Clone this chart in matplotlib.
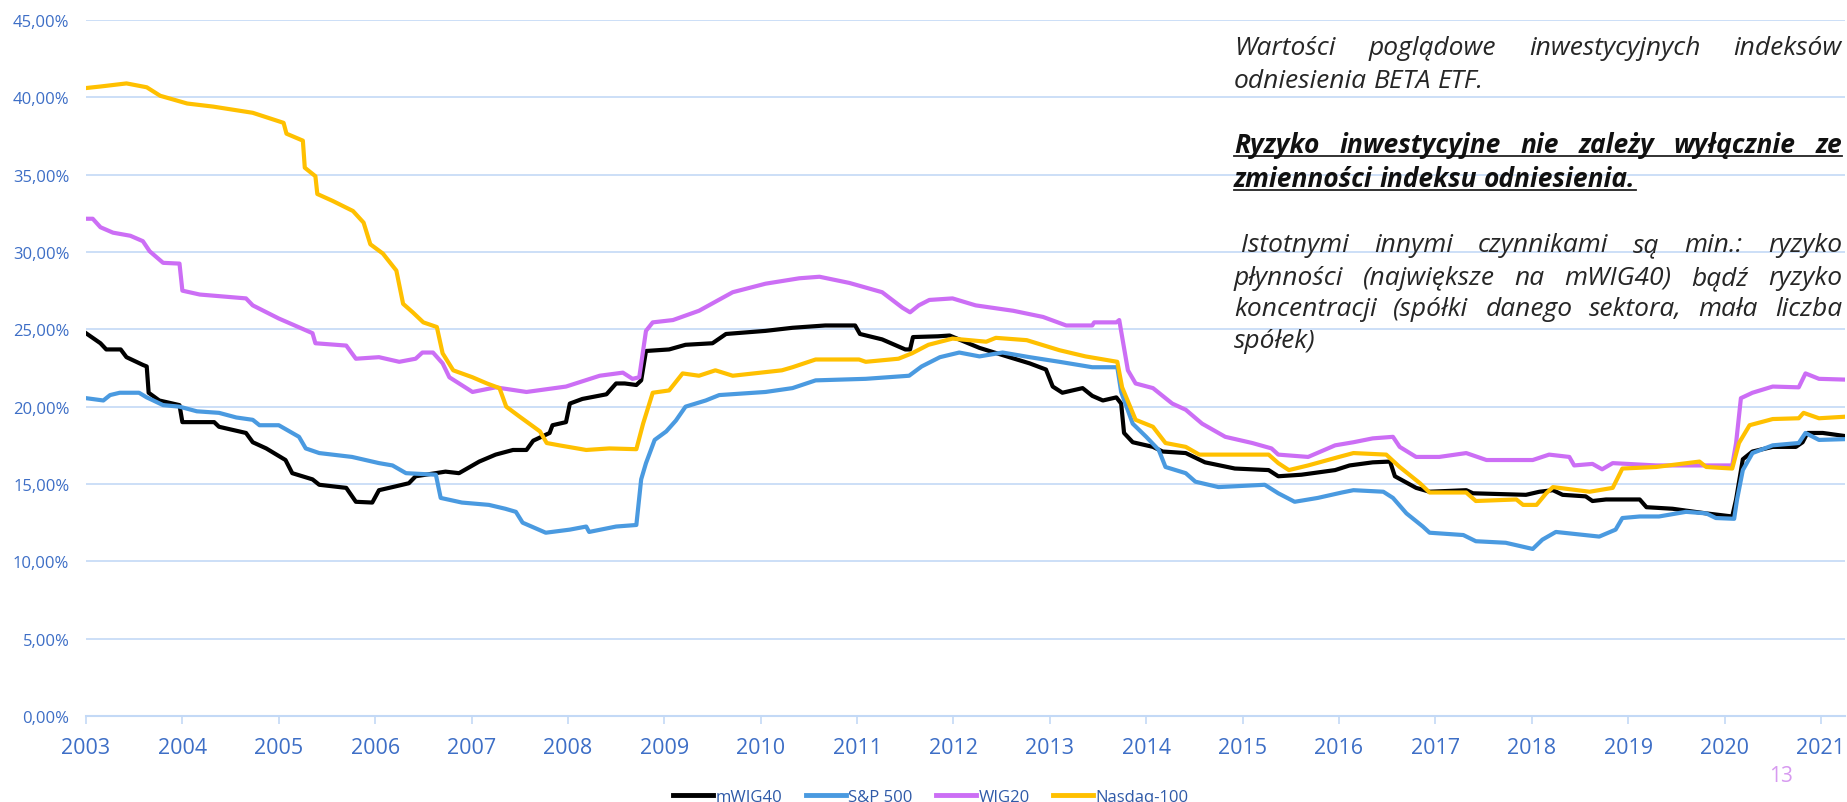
import matplotlib
matplotlib.use("Agg")
import matplotlib.pyplot as plt
from matplotlib.lines import Line2D
from matplotlib.transforms import IdentityTransform
from matplotlib import font_manager as fm

# data: rolling volatility of the reference indices (decimal year, %)
mwig40_x = [2003.0, 2003.15, 2003.21, 2003.36, 2003.42, 2003.59, 2003.63, 2003.65, 2003.76, 2003.97,
            2004.0, 2004.33, 2004.38, 2004.66, 2004.73, 2004.87, 2005.07, 2005.14, 2005.35, 2005.42,
            2005.7, 2005.8, 2005.97, 2006.04, 2006.18, 2006.35, 2006.42, 2006.73, 2006.87, 2007.08,
            2007.25, 2007.43, 2007.57, 2007.64, 2007.81, 2007.84, 2007.98, 2008.02, 2008.15, 2008.4,
            2008.5, 2008.59, 2008.71, 2008.76, 2008.81, 2009.05, 2009.22, 2009.5, 2009.64, 2010.05,
            2010.33, 2010.67, 2010.98, 2011.03, 2011.26, 2011.5, 2011.55, 2011.58, 2011.84, 2011.96,
            2012.27, 2012.58, 2012.79, 2012.96, 2013.03, 2013.13, 2013.34, 2013.44, 2013.55, 2013.69,
            2013.74, 2013.77, 2013.86, 2014.07, 2014.17, 2014.41, 2014.61, 2014.92, 2015.27, 2015.37,
            2015.61, 2015.96, 2016.11, 2016.35, 2016.53, 2016.58, 2016.8, 2016.94, 2017.32, 2017.39,
            2017.94, 2018.08, 2018.22, 2018.32, 2018.56, 2018.63, 2018.77, 2019.12, 2019.19, 2019.46,
            2019.81, 2020.08, 2020.12, 2020.19, 2020.29, 2020.5, 2020.74, 2020.81, 2020.86, 2021.02,
            2021.25]
mwig40_y = [24.75, 24.1, 23.7, 23.7, 23.2, 22.7, 22.6, 20.9, 20.4, 20.1,
            19.0, 19.0, 18.7, 18.3, 17.7, 17.3, 16.55, 15.7, 15.3, 14.95,
            14.75, 13.85, 13.8, 14.6, 14.8, 15.05, 15.5, 15.8, 15.7, 16.45,
            16.9, 17.2, 17.2, 17.8, 18.3, 18.8, 19.0, 20.2, 20.5, 20.8,
            21.5, 21.5, 21.4, 21.7, 23.6, 23.7, 24.0, 24.1, 24.7, 24.9,
            25.1, 25.25, 25.25, 24.7, 24.35, 23.7, 23.7, 24.5, 24.55, 24.6,
            23.8, 23.2, 22.8, 22.4, 21.3, 20.9, 21.2, 20.7, 20.4, 20.6,
            20.2, 18.3, 17.7, 17.4, 17.1, 17.0, 16.4, 16.0, 15.9, 15.5,
            15.6, 15.9, 16.2, 16.4, 16.45, 15.5, 14.75, 14.5, 14.6, 14.4,
            14.3, 14.5, 14.6, 14.3, 14.2, 13.9, 14.0, 14.0, 13.5, 13.4,
            13.1, 12.9, 14.0, 16.6, 17.1, 17.4, 17.4, 17.7, 18.3, 18.3,
            18.1]

sp500_x = [2003.0, 2003.18, 2003.25, 2003.35, 2003.55, 2003.63, 2003.8, 2003.97, 2004.15, 2004.38,
           2004.56, 2004.73, 2004.8, 2005.0, 2005.21, 2005.28, 2005.42, 2005.76, 2006.04, 2006.18,
           2006.32, 2006.63, 2006.68, 2006.9, 2007.18, 2007.35, 2007.46, 2007.53, 2007.77, 2008.02,
           2008.19, 2008.22, 2008.5, 2008.71, 2008.76, 2008.81, 2008.9, 2009.02, 2009.12, 2009.22,
           2009.43, 2009.57, 2010.05, 2010.33, 2010.57, 2011.09, 2011.54, 2011.67, 2011.86, 2012.06,
           2012.27, 2012.51, 2012.79, 2013.1, 2013.44, 2013.7, 2013.74, 2013.86, 2014.0, 2014.13,
           2014.2, 2014.41, 2014.51, 2014.75, 2015.23, 2015.37, 2015.54, 2015.78, 2016.03, 2016.15,
           2016.46, 2016.56, 2016.7, 2016.87, 2016.94, 2017.29, 2017.42, 2017.73, 2018.01, 2018.11,
           2018.25, 2018.7, 2018.87, 2018.94, 2019.12, 2019.32, 2019.6, 2019.81, 2019.91, 2020.1,
           2020.13, 2020.19, 2020.29, 2020.5, 2020.77, 2020.84, 2020.98, 2021.25]
sp500_y = [20.55, 20.4, 20.75, 20.9, 20.9, 20.6, 20.1, 20.0, 19.7, 19.6,
           19.3, 19.15, 18.8, 18.8, 18.05, 17.3, 17.0, 16.75, 16.35, 16.2,
           15.7, 15.6, 14.1, 13.8, 13.65, 13.4, 13.2, 12.5, 11.85, 12.05,
           12.25, 11.9, 12.25, 12.35, 15.3, 16.35, 17.85, 18.4, 19.1, 20.0,
           20.4, 20.75, 20.95, 21.2, 21.7, 21.8, 22.0, 22.6, 23.2, 23.5,
           23.25, 23.5, 23.2, 22.9, 22.55, 22.55, 20.95, 18.9, 18.05, 17.2,
           16.1, 15.7, 15.15, 14.8, 14.95, 14.4, 13.85, 14.1, 14.45, 14.6,
           14.5, 14.1, 13.1, 12.25, 11.85, 11.7, 11.3, 11.2, 10.8, 11.4,
           11.9, 11.6, 12.05, 12.8, 12.9, 12.9, 13.2, 13.1, 12.8, 12.75,
           14.0, 15.9, 17.0, 17.5, 17.65, 18.3, 17.85, 17.9]

wig20_x = [2003.0, 2003.07, 2003.15, 2003.28, 2003.46, 2003.59, 2003.66, 2003.8, 2003.97, 2004.0,
           2004.18, 2004.66, 2004.73, 2005.0, 2005.35, 2005.38, 2005.7, 2005.8, 2006.04, 2006.25,
           2006.42, 2006.49, 2006.6, 2006.7, 2006.77, 2007.01, 2007.25, 2007.57, 2007.98, 2008.33,
           2008.57, 2008.67, 2008.74, 2008.81, 2008.88, 2009.09, 2009.36, 2009.71, 2010.05, 2010.4,
           2010.61, 2010.92, 2011.26, 2011.47, 2011.55, 2011.64, 2011.75, 2011.99, 2012.23, 2012.62,
           2012.93, 2013.17, 2013.44, 2013.46, 2013.69, 2013.72, 2013.81, 2013.89, 2014.07, 2014.27,
           2014.41, 2014.58, 2014.82, 2015.1, 2015.3, 2015.37, 2015.68, 2015.96, 2016.15, 2016.35,
           2016.56, 2016.63, 2016.8, 2017.04, 2017.32, 2017.53, 2018.01, 2018.18, 2018.39, 2018.44,
           2018.63, 2018.73, 2018.84, 2019.29, 2020.08, 2020.12, 2020.17, 2020.29, 2020.5, 2020.77,
           2020.84, 2020.98, 2021.25]
wig20_y = [32.15, 32.15, 31.6, 31.25, 31.05, 30.7, 30.05, 29.3, 29.25, 27.5,
           27.25, 27.0, 26.55, 25.7, 24.75, 24.1, 23.95, 23.1, 23.2, 22.9,
           23.1, 23.5, 23.5, 22.8, 21.9, 20.95, 21.25, 20.95, 21.3, 22.0,
           22.2, 21.8, 21.9, 24.9, 25.45, 25.6, 26.2, 27.4, 27.95, 28.3,
           28.4, 28.0, 27.4, 26.4, 26.1, 26.55, 26.9, 27.0, 26.55, 26.2,
           25.8, 25.25, 25.25, 25.45, 25.45, 25.6, 22.35, 21.5, 21.2, 20.2,
           19.8, 18.9, 18.05, 17.65, 17.3, 16.9, 16.75, 17.5, 17.7, 17.95,
           18.05, 17.4, 16.75, 16.75, 17.0, 16.55, 16.55, 16.9, 16.75, 16.2,
           16.3, 15.95, 16.35, 16.2, 16.2, 17.65, 20.55, 20.9, 21.3, 21.25,
           22.15, 21.8, 21.75]

nasdaq_x = [2003.0, 2003.15, 2003.42, 2003.63, 2003.77, 2004.05, 2004.32, 2004.73, 2005.05, 2005.08,
            2005.25, 2005.27, 2005.38, 2005.4, 2005.56, 2005.77, 2005.88, 2005.95, 2006.08, 2006.22,
            2006.29, 2006.39, 2006.5, 2006.64, 2006.7, 2006.81, 2007.01, 2007.16, 2007.29, 2007.36,
            2007.5, 2007.71, 2007.78, 2007.91, 2008.19, 2008.43, 2008.71, 2008.78, 2008.88, 2009.05,
            2009.19, 2009.36, 2009.53, 2009.71, 2010.22, 2010.33, 2010.57, 2011.02, 2011.09, 2011.43,
            2011.57, 2011.74, 2011.99, 2012.34, 2012.44, 2012.76, 2013.1, 2013.37, 2013.7, 2013.75,
            2013.89, 2014.07, 2014.2, 2014.41, 2014.55, 2015.27, 2015.37, 2015.48, 2015.68, 2016.0,
            2016.15, 2016.49, 2016.63, 2016.84, 2016.94, 2017.32, 2017.42, 2017.84, 2017.91, 2018.05,
            2018.15, 2018.22, 2018.6, 2018.84, 2018.94, 2019.29, 2019.74, 2019.81, 2020.08, 2020.15,
            2020.26, 2020.5, 2020.77, 2020.82, 2020.98, 2021.25]
nasdaq_y = [40.6, 40.7, 40.9, 40.65, 40.1, 39.6, 39.4, 39.0, 38.35, 37.65,
            37.2, 35.45, 34.9, 33.75, 33.3, 32.65, 31.9, 30.5, 29.9, 28.8,
            26.65, 26.1, 25.45, 25.15, 23.45, 22.35, 21.9, 21.5, 21.2, 20.0,
            19.35, 18.4, 17.65, 17.5, 17.2, 17.3, 17.25, 18.9, 20.9, 21.05,
            22.15, 22.0, 22.35, 22.0, 22.35, 22.55, 23.05, 23.05, 22.9, 23.1,
            23.45, 24.0, 24.4, 24.2, 24.45, 24.3, 23.65, 23.25, 22.9, 21.25,
            19.15, 18.7, 17.65, 17.4, 16.9, 16.9, 16.35, 15.9, 16.2, 16.75,
            17.0, 16.9, 16.1, 15.05, 14.45, 14.45, 13.9, 14.0, 13.65, 13.65,
            14.4, 14.8, 14.5, 14.75, 16.0, 16.1, 16.45, 16.1, 16.0, 17.65,
            18.8, 19.2, 19.25, 19.6, 19.25, 19.35]

series_names = ["mWIG40", "S&P 500", "WIG20", "Nasdaq-100"]
series_colors = ["#000000", "#4A9AE0", "#CC6EF5", "#FFC000"]

years = list(range(2003, 2022))
y_ticks = [0, 5, 10, 15, 20, 25, 30, 35, 40, 45]
y_labels = ["0,00%", "5,00%", "10,00%", "15,00%", "20,00%", "25,00%",
            "30,00%", "35,00%", "40,00%", "45,00%"]


def pick_font(italic, bold):
    # find a real (non condensed) italic face, file based so nothing gets faked
    want_w = 700 if bold else 400
    for fam in ["Open Sans", "Noto Sans", "Lato", "DejaVu Sans"]:
        for f in fm.fontManager.ttflist:
            if f.name != fam:
                continue
            low = f.fname.lower()
            if "cond" in low or "narrow" in low or "semi" in low:
                continue
            if italic and f.style not in ("italic", "oblique"):
                continue
            w = f.weight if isinstance(f.weight, int) else (700 if "bold" in str(f.weight) else 400)
            if abs(w - want_w) > 100:
                continue
            return f.fname
    return None


W, H = 1847, 803
fig = plt.figure(figsize=(W / 100, H / 100), dpi=100)
ax = fig.add_axes([86 / W, 1 - 717 / H, (1845 - 86) / W, (717 - 21) / H])

tick_blue = "#3D6EC6"
grid_blue = "#C3D9F6"

for xs, ys, c in zip([mwig40_x, sp500_x, wig20_x, nasdaq_x],
                     [mwig40_y, sp500_y, wig20_y, nasdaq_y], series_colors):
    ax.plot(xs, ys, color=c, lw=3.0, solid_joinstyle="round")

ax.set_xlim(2003, 2021.25)
ax.set_ylim(0, 45)
ax.set_yticks(y_ticks)
ax.set_yticklabels(y_labels)
ax.set_xticks(years)
ax.set_xticklabels([str(y) for y in years])
ax.yaxis.grid(True, color=grid_blue, lw=1.2)
ax.set_axisbelow(True)
for s in ["top", "right", "left"]:
    ax.spines[s].set_visible(False)
ax.spines["bottom"].set_color(grid_blue)
ax.spines["bottom"].set_linewidth(1.5)
ax.tick_params(axis="y", length=0, pad=12, labelsize=12, labelcolor=tick_blue)
ax.tick_params(axis="x", length=6, width=1.2, color=grid_blue, pad=9,
               labelsize=15.5, labelcolor=tick_blue)
for lab in ax.get_xticklabels() + ax.get_yticklabels():
    lab.set_fontfamily("Open Sans")

handles = [Line2D([], [], color=c, lw=3.5) for c in series_colors]
fig.legend(handles, series_names, loc="lower center", bbox_to_anchor=(0.504, -0.022),
           ncol=4, frameon=False, handlelength=2.4, handletextpad=0.15, columnspacing=1.4,
           prop={"family": "Open Sans", "size": 12}, labelcolor="#2F5AA8")

fig.text(1781 / W, 1 - 777 / H, "13", color="#D79AF0", fontsize=15,
         family="Open Sans", ha="center", va="center")

# justified text block on the right
renderer = fig.canvas.get_renderer()
ident = IdentityTransform()
X0, X1 = 1234, 1842
fsize = 19

reg_file = pick_font(True, False)
bold_file = pick_font(True, True)
if reg_file:
    reg_fp = fm.FontProperties(fname=reg_file, size=fsize)
else:
    reg_fp = fm.FontProperties(family="DejaVu Sans", style="italic", size=fsize)
if bold_file:
    bold_fp = fm.FontProperties(fname=bold_file, size=fsize)
else:
    bold_fp = fm.FontProperties(family="DejaVu Sans", style="italic", weight="bold", size=fsize)


def put_line(words, y_img, justify, fp, color):
    texts = [fig.text(0, 0, w, transform=ident, va="baseline", ha="left",
                      fontproperties=fp, color=color) for w in words]
    widths = [t.get_window_extent(renderer).width for t in texts]
    sp = fig.text(0, 0, "a a", transform=ident, fontproperties=fp)
    sp2 = fig.text(0, 0, "aa", transform=ident, fontproperties=fp)
    space = sp.get_window_extent(renderer).width - sp2.get_window_extent(renderer).width
    sp.remove()
    sp2.remove()
    if justify and len(words) > 1:
        gap = (X1 - X0 - sum(widths)) / (len(words) - 1)
    else:
        gap = space
    x = X0
    for t, w in zip(texts, widths):
        t.set_position((x, H - y_img))
        x += w + gap
    return x - gap


txt_col = "#262626"
bold_col = "#111111"

put_line("Wartości poglądowe inwestycyjnych indeksów".split(), 55, True, reg_fp, txt_col)
put_line("odniesienia BETA ETF.".split(), 88, False, reg_fp, txt_col)

end1 = put_line("Ryzyko inwestycyjne nie zależy wyłącznie ze".split(), 153, True, bold_fp, bold_col)
end2 = put_line("zmienności indeksu odniesienia.".split(), 187, False, bold_fp, bold_col)
for y_img, xe in [(153, end1), (187, end2)]:
    fig.add_artist(Line2D([X0, xe], [H - y_img - 4, H - y_img - 4], transform=ident,
                          color="#222222", lw=1.3))

put_line([" Istotnymi"] + "innymi czynnikami są min.: ryzyko".split(), 252, True, reg_fp, txt_col)
put_line("płynności (największe na mWIG40) bądź ryzyko".split(), 285, True, reg_fp, txt_col)
put_line("koncentracji (spółki danego sektora, mała liczba".split(), 316, True, reg_fp, txt_col)
put_line(["spółek)"], 348, False, reg_fp, txt_col)

fig.savefig("out.png", dpi=100)
